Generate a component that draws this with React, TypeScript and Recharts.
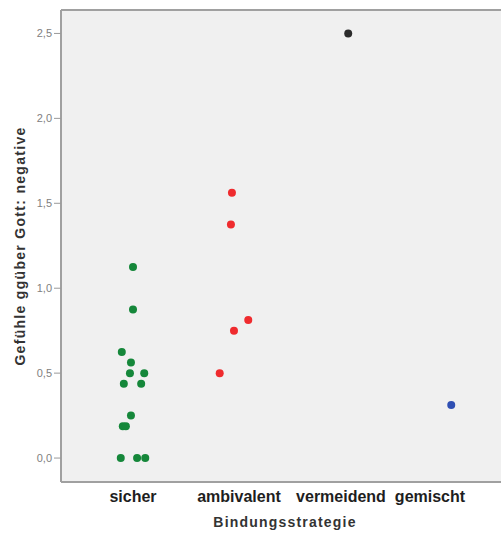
import React from 'react';
import {
  ScatterChart,
  Scatter,
  XAxis,
  YAxis,
  CartesianGrid,
  ReferenceLine,
} from 'recharts';

// Bindungsstrategie categories (x axis)
const categories = ['sicher', 'ambivalent', 'vermeidend', 'gemischt'];
const categoryTicks = [1, 2, 3, 4];

// y tick values
const yTicks = [0, 0.5, 1, 1.5, 2, 2.5];

// values per group (Gefühle ggüber Gott: negative) and their jitter offset
const sicherValues = [1.125, 0.875, 0.625, 0.5625, 0.5, 0.5, 0.4375, 0.4375, 0.25, 0.1875, 0.1875, 0, 0, 0];
const sicherJitter = [0, 0, -0.11, -0.02, -0.03, 0.11, -0.09, 0.08, -0.02, -0.1, -0.07, -0.12, 0.04, 0.12];

const ambivalentValues = [1.5625, 1.375, 0.8125, 0.75, 0.5];
const ambivalentJitter = [-0.03, -0.04, 0.13, -0.01, -0.15];

const vermeidendValues = [2.5];
const vermeidendJitter = [0.11];

const gemischtValues = [0.3125];
const gemischtJitter = [0.12];

const toPoints = (group: number, values: number[], jitter: number[]) =>
  values.map((v, i) => ({ x: group + jitter[i], y: v }));

const groups = [
  { name: 'sicher', color: '#15873a', data: toPoints(1, sicherValues, sicherJitter) },
  { name: 'ambivalent', color: '#ef2b2e', data: toPoints(2, ambivalentValues, ambivalentJitter) },
  { name: 'vermeidend', color: '#2b2b2b', data: toPoints(3, vermeidendValues, vermeidendJitter) },
  { name: 'gemischt', color: '#2f4fb3', data: toPoints(4, gemischtValues, gemischtJitter) },
];

const Y_MIN = -0.141;
const Y_MAX = 2.638;

// small nudges so labels sit where the SPSS output put them
const labelShift = [0, 4, 4, -9];

const CategoryTick = (props: any) => {
  const { x, y, payload, index } = props;
  return (
    <text
      x={x + (labelShift[index] || 0)}
      y={y}
      dy={12}
      textAnchor="middle"
      fontFamily="Liberation Sans, Arial, sans-serif"
      fontWeight="bold"
      fontSize={16}
      fill="#1e1e1e"
    >
      {categories[payload.value - 1]}
    </text>
  );
};

const Dot = (props: any) => {
  const { cx, cy, fill } = props;
  return <circle cx={cx} cy={cy} r={4} fill={fill} />;
};

export default function App() {
  return (
    <div style={{ width: 501, height: 533, background: '#fff' }}>
      <style>{'body{margin:0}'}</style>
      <ScatterChart
        width={501}
        height={533}
        margin={{ top: 10, right: 0, bottom: 0, left: 0 }}
      >
        <CartesianGrid fill="#f0f0f0" horizontal={false} vertical={false} />
        <XAxis
          type="number"
          dataKey="x"
          domain={[0.294, 4.608]}
          ticks={categoryTicks}
          allowDataOverflow
          height={51}
          interval={0}
          tickLine={false}
          tickSize={0}
          tickMargin={8}
          axisLine={{ stroke: '#a0a0a0', strokeWidth: 2 }}
          tick={<CategoryTick />}
          label={{
            value: 'Bindungsstrategie',
            position: 'insideBottom',
            offset: 6,
            dx: 4,
            fontFamily: 'Liberation Sans, Arial, sans-serif',
            fontWeight: 'bold',
            fontSize: 14,
            letterSpacing: 1.2,
            fill: '#333',
          }}
        />
        <YAxis
          type="number"
          dataKey="y"
          domain={[Y_MIN, Y_MAX]}
          ticks={yTicks}
          allowDataOverflow
          width={61}
          tickSize={7}
          tickMargin={2}
          tickLine={{ stroke: '#999' }}
          axisLine={{ stroke: '#a0a0a0', strokeWidth: 2 }}
          tickFormatter={(v: number) => v.toFixed(1).replace('.', ',')}
          tick={{ fontFamily: 'Liberation Sans, Arial, sans-serif', fontSize: 11, fill: '#808080' }}
          label={{
            value: 'Gefühle ggüber Gott: negative',
            angle: -90,
            position: 'center',
            dx: -10,
            fontFamily: 'Liberation Sans, Arial, sans-serif',
            fontWeight: 'bold',
            fontSize: 14,
            letterSpacing: 1.3,
            fill: '#333',
          }}
        />
        <ReferenceLine y={Y_MAX} stroke="#a0a0a0" strokeWidth={2} ifOverflow="extendDomain" />
        {groups.map((g) => (
          <Scatter
            key={g.name}
            name={g.name}
            data={g.data}
            fill={g.color}
            shape={<Dot />}
            isAnimationActive={false}
          />
        ))}
      </ScatterChart>
    </div>
  );
}
